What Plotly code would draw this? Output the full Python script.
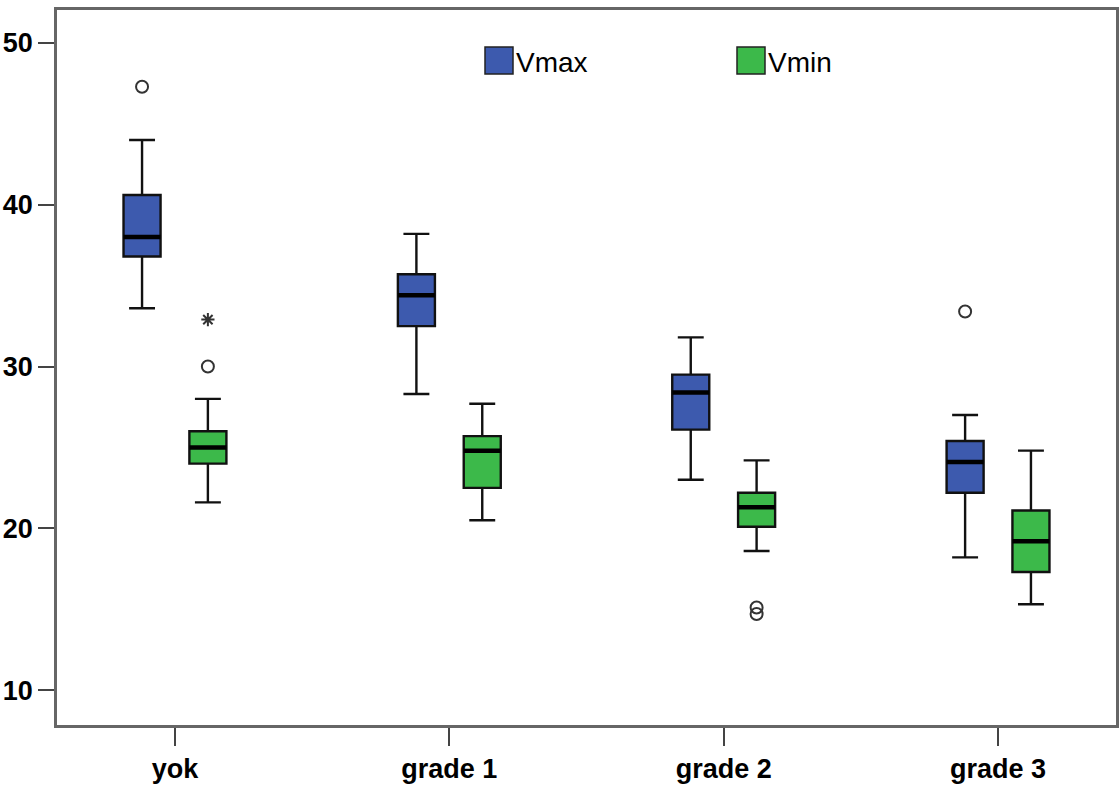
import plotly.graph_objects as go

categories = ["yok", "grade 1", "grade 2", "grade 3"]

# Vmax stats per category
vmax_low = [33.6, 28.3, 23.0, 18.2]
vmax_q1 = [36.8, 32.5, 26.1, 22.2]
vmax_med = [38.0, 34.4, 28.4, 24.1]
vmax_q3 = [40.6, 35.7, 29.5, 25.4]
vmax_high = [44.0, 38.2, 31.8, 27.0]

# Vmin stats per category
vmin_low = [21.6, 20.5, 18.6, 15.3]
vmin_q1 = [24.0, 22.5, 20.1, 17.3]
vmin_med = [25.0, 24.8, 21.3, 19.2]
vmin_q3 = [26.0, 25.7, 22.2, 21.1]
vmin_high = [28.0, 27.7, 24.2, 24.8]

# outliers: (category index, value)
vmax_out_cat = [0, 3]
vmax_out_val = [47.3, 33.4]
vmin_out_cat = [0, 2, 2]
vmin_out_val = [30.0, 15.1, 14.7]
vmin_ext_cat = [0]
vmin_ext_val = [32.9]

series_names = ["Vmax", "Vmin"]
colors = ["#3d5aae", "#3cb94a"]

OFF = 0.12
BW = 0.135

# plot area in pixels
L, R, T, B = 57, 1116, 10, 725
W, H = 1120, 787

def px(xp):
    return (xp - L) / (R - L)

def py(yp):
    return 1 - (yp - T) / (B - T)

fig = go.Figure()

def add_series(name, color, sign, low, q1, med, q3, high):
    xs = [i + sign * OFF for i in range(len(categories))]
    fig.add_trace(go.Box(
        x=xs, lowerfence=low, q1=q1, median=med, q3=q3, upperfence=high,
        width=BW, fillcolor=color, line=dict(color="#111111", width=2.4),
        whiskerwidth=0.7, boxpoints=False, showlegend=False, hoverinfo="skip",
        name=name,
    ))
    mx, my = [], []
    for x, m in zip(xs, med):
        mx += [x - BW / 2, x + BW / 2, None]
        my += [m, m, None]
    fig.add_trace(go.Scatter(x=mx, y=my, mode="lines",
                             line=dict(color="black", width=4.5),
                             showlegend=False, hoverinfo="skip"))

add_series("Vmax", colors[0], -1, vmax_low, vmax_q1, vmax_med, vmax_q3, vmax_high)
add_series("Vmin", colors[1], 1, vmin_low, vmin_q1, vmin_med, vmin_q3, vmin_high)

mk = dict(symbol="circle-open", size=12, color="#333333", line=dict(width=2))
fig.add_trace(go.Scatter(
    x=[c - OFF for c in vmax_out_cat], y=vmax_out_val, mode="markers",
    marker=mk, showlegend=False, hoverinfo="skip"))
fig.add_trace(go.Scatter(
    x=[c + OFF for c in vmin_out_cat], y=vmin_out_val, mode="markers",
    marker=mk, showlegend=False, hoverinfo="skip"))
fig.add_trace(go.Scatter(
    x=[c + OFF for c in vmin_ext_cat], y=vmin_ext_val, mode="markers",
    marker=dict(symbol="asterisk-open", size=11, color="#333333", line=dict(width=2)),
    showlegend=False, hoverinfo="skip"))

# manual legend (squares + labels)
leg_x = [485, 737]
for nm, col, lx in zip(series_names, colors, leg_x):
    fig.add_shape(type="rect", xref="paper", yref="paper",
                  x0=px(lx), x1=px(lx + 28), y0=py(74), y1=py(47),
                  fillcolor=col, line=dict(color="#222222", width=1.5))
    fig.add_annotation(xref="paper", yref="paper", x=px(lx + 29), y=py(62),
                       xanchor="left", yanchor="middle", text=nm, showarrow=False,
                       font=dict(size=28, color="black",
                                 family="Arial, Liberation Sans, sans-serif"))

fig.update_layout(
    width=W, height=H,
    paper_bgcolor="white", plot_bgcolor="white",
    margin=dict(l=L, r=W - R, t=T, b=H - B),
    showlegend=False,
    font=dict(family="Arial, Liberation Sans, sans-serif", color="black"),
    xaxis=dict(
        range=[-0.43, 3.43], tickvals=list(range(len(categories))), ticktext=categories,
        ticks="outside", ticklen=18, tickwidth=1.5, tickcolor="#444444",
        tickfont=dict(size=27, family="Arial, Liberation Sans, sans-serif", weight="bold"),
        showline=True, linecolor="#666666", linewidth=2.5, mirror=True,
        showgrid=False, zeroline=False, automargin=False,
    ),
    yaxis=dict(
        range=[7.84, 52.04], tickvals=[10, 20, 30, 40, 50],
        ticks="outside", ticklen=16, tickwidth=1.5, tickcolor="#444444",
        tickfont=dict(size=27, family="Arial, Liberation Sans, sans-serif", weight="bold"),
        showline=True, linecolor="#666666", linewidth=2.5, mirror=True,
        showgrid=False, zeroline=False, automargin=False,
    ),
)

fig.write_html("out.html", config={"displayModeBar": False},
               post_script="document.body.style.margin='0';")
